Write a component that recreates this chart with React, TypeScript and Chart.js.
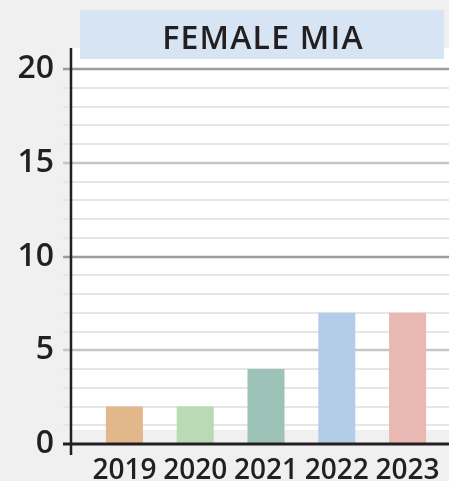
import React, { useEffect, useRef } from "react";
import { Chart, registerables } from "chart.js";

Chart.register(...registerables);

const title = "FEMALE MIA";
const years = ["2019", "2020", "2021", "2022", "2023"];
const counts = [2, 2, 4, 7, 7];
const barColors = ["#e3b78c", "#b9dab5", "#9dc3b9", "#b3cde8", "#eab8b3"];
const yMax = 20;
const yStep = 5;
const minorStep = 1;

const FONT = "'Open Sans', 'Noto Sans', sans-serif";

const decor = {
  id: "decor",
  beforeDraw(chart: any) {
    const { ctx, width, height, chartArea } = chart;
    const y = chart.scales.y;
    const zeroY = y.getPixelForValue(0);
    ctx.save();
    ctx.fillStyle = "#f0f0f0";
    ctx.fillRect(0, 0, width, height);
    // white plot panel
    ctx.fillStyle = "#ffffff";
    const axisX = chartArea.left - 18;
    const top = y.getPixelForValue(yMax) - 21;
    ctx.fillRect(axisX, top, width - axisX, zeroY - 14 - top);
    // title box
    ctx.fillStyle = "#d6e4f4";
    ctx.fillRect(80, 10, 364, 49);
    ctx.fillStyle = "#231f20";
    ctx.font = `600 32px ${FONT}`;
    (ctx as any).letterSpacing = "1.2px";
    ctx.textAlign = "center";
    ctx.textBaseline = "alphabetic";
    ctx.fillText(title, 263, 49);
    ctx.restore();
  },
  beforeDatasetsDraw(chart: any) {
    const { ctx, width } = chart;
    const y = chart.scales.y;
    const axisX = chart.chartArea.left - 18;
    ctx.save();
    for (let v = minorStep; v <= yMax; v += minorStep) {
      const py = Math.round(y.getPixelForValue(v));
      let color = "#e6e6e6";
      if (v % yStep === 0) color = v % (yStep * 2) === 0 ? "#9c9c9c" : "#c6c6c6";
      ctx.strokeStyle = color;
      ctx.lineWidth = v % yStep === 0 ? 2.5 : 2;
      ctx.beginPath();
      ctx.moveTo(axisX - 8, py);
      ctx.lineTo(width, py);
      ctx.stroke();
    }
    ctx.restore();
  },
  afterDatasetsDraw(chart: any) {
    const { ctx, width, chartArea } = chart;
    const y = chart.scales.y;
    const axisX = chartArea.left - 18;
    const zeroY = y.getPixelForValue(0);
    const top = y.getPixelForValue(yMax) - 21;
    ctx.save();
    ctx.strokeStyle = "#231f20";
    ctx.lineWidth = 3;
    ctx.beginPath();
    ctx.moveTo(axisX - 8, zeroY);
    ctx.lineTo(width, zeroY);
    ctx.stroke();
    ctx.lineWidth = 2.5;
    ctx.beginPath();
    ctx.moveTo(axisX, top);
    ctx.lineTo(axisX, zeroY + 11);
    ctx.stroke();
    ctx.restore();
  },
};

export default function App() {
  const ref = useRef<HTMLCanvasElement | null>(null);
  useEffect(() => {
    if (!ref.current) return;
    const chart = new Chart(ref.current, {
      type: "bar",
      data: {
        labels: years,
        datasets: [
          {
            data: counts,
            backgroundColor: barColors,
            borderWidth: 0,
            barPercentage: 0.523,
            categoryPercentage: 1,
          },
        ],
      },
      plugins: [decor],
      options: {
        responsive: false,
        animation: false,
        devicePixelRatio: 1,
        layout: { autoPadding: false, padding: { top: 69, right: 6, bottom: 0, left: 0 } },
        plugins: { legend: { display: false }, tooltip: { enabled: false }, title: { display: false } },
        scales: {
          x: {
            type: "category",
            grid: { display: false, drawTicks: false, tickLength: 0 },
            border: { display: false },
            ticks: {
              color: "#231f20",
              font: { family: FONT, size: 28, weight: "600" },
              padding: 10,
              maxRotation: 0,
              autoSkip: false,
            },
            afterFit: (s: any) => {
              s.height = 37;
              s.paddingLeft = 0;
              s.paddingRight = 0;
            },
          },
          y: {
            min: 0,
            max: yMax,
            grid: { display: false, drawTicks: false, tickLength: 0 },
            border: { display: false },
            ticks: {
              stepSize: yStep,
              color: "#231f20",
              font: { family: FONT, size: 32, weight: "600" },
              padding: 35,
            },
            afterFit: (s: any) => {
              s.width = 89;
              s.paddingTop = 0;
              s.paddingBottom = 0;
            },
          },
        },
      },
    });
    return () => chart.destroy();
  }, []);
  return (
    <div style={{ position: "absolute", left: 0, top: 0, width: 449, height: 481, background: "#f0f0f0" }}>
      <canvas ref={ref} width={449} height={481} style={{ display: "block" }} />
    </div>
  );
}
